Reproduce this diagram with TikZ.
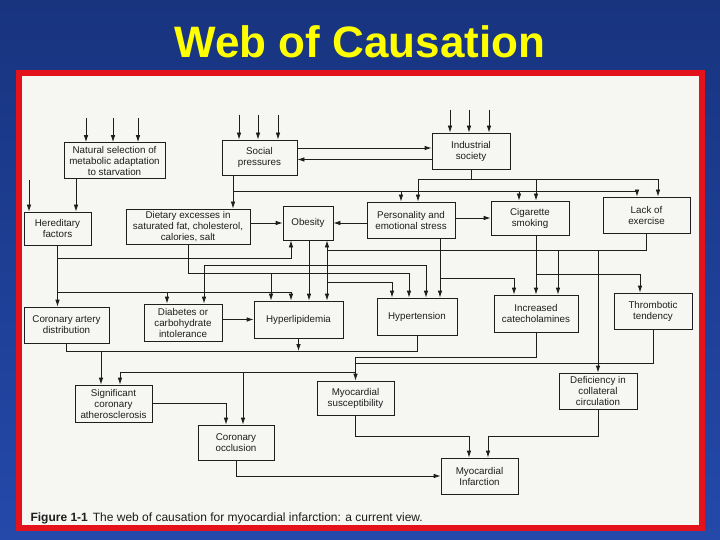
\documentclass[tikz,border=0pt]{standalone}
\usepackage{fontspec}
\setmainfont{Liberation Sans}
\usepackage{tikz}
\usetikzlibrary{arrows.meta,calc}
\definecolor{Slide}{HTML}{2449AA}
\definecolor{SlideDark}{HTML}{18347F}
\definecolor{Frame}{HTML}{E3121B}
\definecolor{Paper}{HTML}{F6F6F3}
\definecolor{Ink}{HTML}{1E1E1E}
\definecolor{TitleInk}{HTML}{FFFF00}
\newcommand{\boxfont}{\fontsize{9.8}{11}\selectfont}

\begin{document}
\begin{tikzpicture}[x=1pt,y=-1pt,
  box/.style={draw=Ink,fill=Paper,align=center,font=\boxfont,text=Ink,inner sep=1pt,line width=0.8pt},
  arr/.style={-{Latex[length=7pt,width=4.6pt]},line width=0.8pt,color=Ink},
  wire/.style={line width=0.8pt,color=Ink}]
\useasboundingbox (0,0) rectangle (720,540);
\shade[top color=SlideDark,bottom color=Slide] (0,0) rectangle (720,540);
\draw[Frame,line width=6pt,fill=Paper] (19,73) rectangle (702,528);
\node[font=\bfseries\fontsize{44}{44}\selectfont,text=TitleInk,anchor=base] (title) at (360,58) {Web of Causation};
\node[anchor=base west,font=\fontsize{12}{12}\selectfont,text=Ink] (caption) at (27,521) {\textbf{Figure 1-1}\hspace{5pt}The web of causation for myocardial infarction: a current view.};

% boxes
\node[box,minimum width=101pt,minimum height=36pt] (nat) at (114.5,160.5) {Natural selection of\\metabolic adaptation\\to starvation};
\node[box,minimum width=67pt,minimum height=33pt] (her) at (57.5,228.5) {Hereditary\\factors};
\node[box,minimum width=75pt,minimum height=35pt] (soc) at (259.5,157.5) {Social\\pressures};
\node[box,minimum width=78pt,minimum height=36pt] (ind) at (471,151) {Industrial\\society};
\node[box,minimum width=124pt,minimum height=35pt] (diet) at (188,226.5) {Dietary excesses in\\saturated fat, cholesterol,\\calories, salt};
\node[box,minimum width=50pt,minimum height=34pt] (obe) at (308,223) {Obesity};
\node[box,minimum width=88pt,minimum height=36pt] (per) at (411,220) {Personality and\\emotional stress};
\node[box,minimum width=78pt,minimum height=34pt] (cig) at (530,218) {Cigarette\\smoking};
\node[box,minimum width=87pt,minimum height=36pt] (lack) at (646.5,215) {Lack of\\exercise};
\node[box,minimum width=85pt,minimum height=36pt] (cad) at (66.5,325) {Coronary artery\\distribution};
\node[box,minimum width=78pt,minimum height=37pt] (dia) at (183,322.5) {Diabetes or\\carbohydrate\\intolerance};
\node[box,minimum width=89pt,minimum height=37pt] (hyp) at (298.5,319.5) {Hyperlipidemia};
\node[box,minimum width=80pt,minimum height=37pt] (hten) at (417,316.5) {Hypertension};
\node[box,minimum width=84pt,minimum height=37pt] (cat) at (536,313.5) {Increased\\catecholamines};
\node[box,minimum width=78pt,minimum height=36pt] (thr) at (653,311) {Thrombotic\\tendency};
\node[box,minimum width=77pt,minimum height=37pt] (sig) at (113.5,403.5) {Significant\\coronary\\atherosclerosis};
\node[box,minimum width=77pt,minimum height=34pt] (mys) at (355.5,398) {Myocardial\\susceptibility};
\node[box,minimum width=78pt,minimum height=36pt] (def) at (598,391) {Deficiency in\\collateral\\circulation};
\node[box,minimum width=76pt,minimum height=35pt] (occ) at (236,442.5) {Coronary\\occlusion};
\node[box,minimum width=77pt,minimum height=36pt] (mi) at (479.5,476) {Myocardial\\Infarction};

% bus levels
\coordinate (indbus) at (0,179);
\coordinate (socbus) at (0,191);
\coordinate (lackbus) at (0,250);
\coordinate (herbusA) at (0,258);
\coordinate (obebus) at (0,265);
\coordinate (dietbus) at (0,273);
\coordinate (cigbus) at (0,274);
\coordinate (perbus) at (0,278);
\coordinate (lackbusB) at (0,282);
\coordinate (herbusB) at (0,292);
\coordinate (sigbus) at (0,351);
\coordinate (catbus) at (0,357);
\coordinate (thrbus) at (0,363);
\coordinate (lowbus) at (0,372);
\coordinate (mibus) at (0,436);

% entry points on the boxes
\coordinate (her-a) at ($(her.north)+(18.5,0)$);
\coordinate (diet-a) at ($(diet.north)+(45,0)$);
\coordinate (per-a) at ($(per.north)+(-10,0)$);
\coordinate (per-b) at ($(per.north)+(7,0)$);
\coordinate (cig-a) at ($(cig.north)+(-11,0)$);
\coordinate (cig-b) at ($(cig.north)+(6,0)$);
\coordinate (lack-a) at ($(lack.north)+(-9.5,0)$);
\coordinate (lack-b) at ($(lack.north)+(11.5,0)$);
\coordinate (obe-a) at ($(obe.south)+(-17,0)$);
\coordinate (obe-b) at ($(obe.south)+(19,0)$);
\coordinate (dia-a) at ($(dia.north)+(-16,0)$);
\coordinate (dia-b) at ($(dia.north)+(21,0)$);
\coordinate (hyp-a) at ($(hyp.north)+(-27.5,0)$);
\coordinate (hyp-b) at ($(hyp.north)+(-7.5,0)$);
\coordinate (hyp-c) at ($(hyp.north)+(10.5,0)$);
\coordinate (hyp-d) at ($(hyp.north)+(28.5,0)$);
\coordinate (hten-a) at ($(hten.north)+(-25,0)$);
\coordinate (hten-b) at ($(hten.north)+(-8,0)$);
\coordinate (hten-c) at ($(hten.north)+(9,0)$);
\coordinate (hten-d) at ($(hten.north)+(23,0)$);
\coordinate (cat-a) at ($(cat.north)+(-22,0)$);
\coordinate (cat-c) at ($(cat.north)+(22,0)$);
\coordinate (thr-a) at ($(thr.north)+(-13,0)$);
\coordinate (sig-a) at ($(sig.north)+(-12.5,0)$);
\coordinate (sig-b) at ($(sig.north)+(6.5,0)$);
\coordinate (occ-a) at ($(occ.north)+(-10,0)$);
\coordinate (occ-b) at ($(occ.north)+(7,0)$);
\coordinate (mi-a) at ($(mi.north)+(-10.5,0)$);
\coordinate (mi-b) at ($(mi.north)+(8.5,0)$);

% inputs from outside the web
\foreach \n/\dx/\len [count=\i] in {nat/-28.5/24,nat/-1.5/24,nat/23.5/24,soc/-20.5/25,soc/-1.5/25,soc/18.5/25,ind/-21/23,ind/-2/23,ind/18/23,her/-28.5/32}{
  \coordinate (in\i) at ($(\n.north)+(\dx,-\len)$);
  \draw[arr] (in\i) -- (in\i |- \n.north);
}

% upper rows
\draw[arr] (nat.south -| her-a) -- (her-a);
\coordinate (s2i) at ($(soc.east)+(0,-9.5)$);
\draw[arr] (s2i) -- (s2i -| ind.west);
\coordinate (i2s) at ($(ind.west)+(0,8.5)$);
\draw[arr] (i2s) -- (i2s -| soc.east);
\draw[wire] (soc.south -| diet-a) -- (diet-a |- socbus) -- (lack-a |- socbus);
\foreach \t in {diet-a,per-a,cig-a,lack-a} \draw[arr] (\t |- socbus) -- (\t);
\draw[wire] (ind.south) -- (ind.south |- indbus);
\draw[wire] (per-b |- indbus) -- (lack-b |- indbus);
\foreach \t in {per-b,cig-b,lack-b} \draw[arr] (\t |- indbus) -- (\t);
\draw[arr] (diet.east |- obe.west) -- (obe.west);
\draw[arr] (per.west |- obe.east) -- (obe.east);
\draw[arr] (per.east |- cig.west) -- (cig.west);

% hereditary factors
\draw[arr] (her.south) -- (her.south |- cad.north);
\draw[arr] (her.south |- herbusA) -| (obe-a);
\draw[arr] (her.south |- herbusB) -| (hyp-b);
\draw[arr] (dia-a |- herbusB) -- (dia-a);

% diet, obesity
\draw[arr] (diet.south) |- (hten-b |- dietbus) -- (hten-b);
\draw[arr] (hyp-a |- dietbus) -- (hyp-a);
\draw[arr] (obe.south -| hyp-c) -- (hyp-c);
\draw[wire] (dia-b |- obebus) -- (hten-c |- obebus);
\draw[arr] (dia-b |- obebus) -- (dia-b);
\draw[arr] (hten-c |- obebus) -- (hten-c);

% lack of exercise
\draw[wire] (lack.south) -- (lack.south |- lackbus) -- (obe-b |- lackbus);
\draw[arr] (obe-b |- lackbus) -- (obe-b);
\draw[arr] (obe-b |- lackbus) -- (hyp-d);
\draw[arr] (hyp-d |- lackbusB) -| (hten-a);
\draw[arr] (cat-c |- lackbus) -- (cat-c);
\draw[arr] (def.north |- lackbus) -- (def.north);

% personality, smoking, diabetes
\draw[arr] (per.south -| hten-d) -- (hten-d);
\draw[arr] (hten-d |- perbus) -| (cat-a);
\draw[arr] (cig.south -| cat.north) -- (cat.north);
\draw[arr] (cat.north |- cigbus) -| (thr-a);
\draw[arr] (dia.east |- hyp.west) -- (hyp.west);

% lower part
\draw[wire] (cad.south) |- (hten.south |- sigbus) -- (hten.south);
\draw[arr] (hyp.south) -- (hyp.south |- sigbus);
\draw[arr] (sig-a |- sigbus) -- (sig-a);
\draw[wire] (cat.south) |- (mys.north |- catbus);
\draw[wire] (thr.south) |- (mys.north |- thrbus);
\draw[arr] (mys.north |- catbus) -- (mys.north);
\draw[wire] (mys.north |- lowbus) -- (sig-b |- lowbus);
\draw[arr] (sig-b |- lowbus) -- (sig-b);
\draw[arr] (occ-b |- lowbus) -- (occ-b);
\draw[arr] (sig.east) -| (occ-a);
\draw[arr] (mys.south) |- (mi-a |- mibus) -- (mi-a);
\draw[arr] (def.south) |- (mi-b |- mibus) -- (mi-b);
\draw[arr] (occ.south) |- (mi.west);
\end{tikzpicture}
\end{document}
